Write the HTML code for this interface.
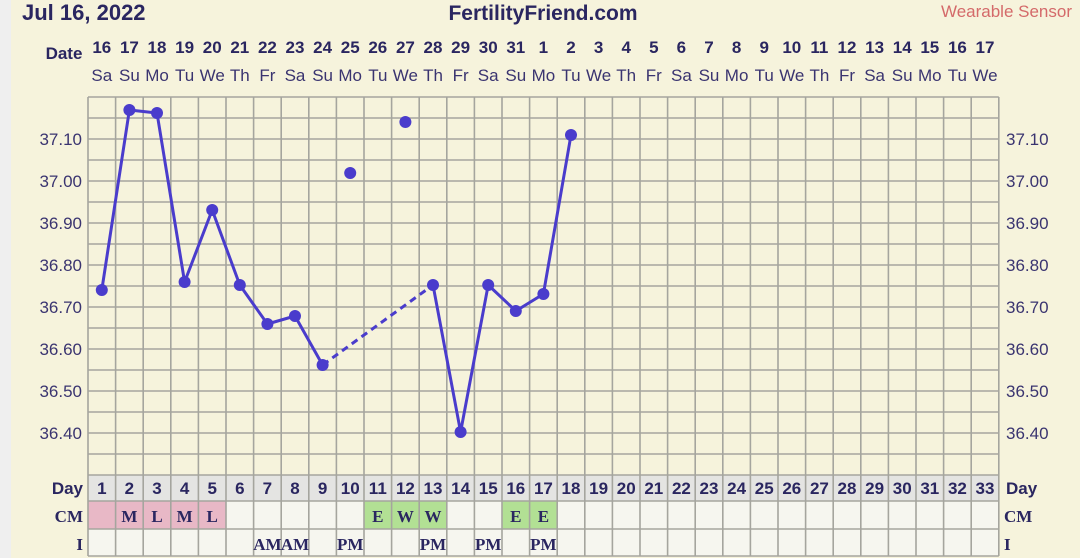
<!DOCTYPE html>
<html><head><meta charset="utf-8"><style>
html,body{margin:0;padding:0;width:1080px;height:558px;overflow:hidden;background:#f6f3dc}
svg{display:block}
.t{font-family:"Liberation Sans",sans-serif;fill:#2a2660}
.d{font-family:"Liberation Sans",sans-serif;font-weight:bold;font-size:17px;fill:#2a2660;text-anchor:middle}
.w{font-family:"Liberation Sans",sans-serif;font-size:17px;fill:#3a3470;text-anchor:middle}
.y{font-family:"Liberation Sans",sans-serif;font-size:17px;fill:#3a3470}
.s{font-family:"Liberation Serif",serif;font-weight:bold;font-size:17px;fill:#2a2660;text-anchor:middle}
</style></head><body>
<svg width="1080" height="558" viewBox="0 0 1080 558" xmlns="http://www.w3.org/2000/svg">
<rect x="0" y="0" width="11" height="558" fill="#efefef"/>
<text class="t" x="22" y="20" font-size="22" font-weight="bold">Jul 16, 2022</text>
<text class="t" x="543" y="20" font-size="21" font-weight="bold" text-anchor="middle">FertilityFriend.com</text>
<text x="1072" y="17" font-family="Liberation Sans,sans-serif" font-size="17" fill="#d46a6a" text-anchor="end">Wearable Sensor</text>
<text class="d" x="64" y="59" font-size="18">Date</text>
<g class="d">
<text x="101.8" y="53">16</text><text x="129.4" y="53">17</text><text x="157" y="53">18</text><text x="184.6" y="53">19</text><text x="212.2" y="53">20</text><text x="239.8" y="53">21</text><text x="267.4" y="53">22</text><text x="295" y="53">23</text><text x="322.6" y="53">24</text><text x="350.2" y="53">25</text><text x="377.8" y="53">26</text><text x="405.4" y="53">27</text><text x="433" y="53">28</text><text x="460.6" y="53">29</text><text x="488.2" y="53">30</text><text x="515.8" y="53">31</text><text x="543.4" y="53">1</text><text x="571" y="53">2</text><text x="598.6" y="53">3</text><text x="626.2" y="53">4</text><text x="653.8" y="53">5</text><text x="681.4" y="53">6</text><text x="709" y="53">7</text><text x="736.6" y="53">8</text><text x="764.2" y="53">9</text><text x="791.8" y="53">10</text><text x="819.4" y="53">11</text><text x="847" y="53">12</text><text x="874.6" y="53">13</text><text x="902.2" y="53">14</text><text x="929.8" y="53">15</text><text x="957.4" y="53">16</text><text x="985" y="53">17</text>
</g>
<g class="w">
<text x="101.8" y="81">Sa</text><text x="129.4" y="81">Su</text><text x="157" y="81">Mo</text><text x="184.6" y="81">Tu</text><text x="212.2" y="81">We</text><text x="239.8" y="81">Th</text><text x="267.4" y="81">Fr</text><text x="295" y="81">Sa</text><text x="322.6" y="81">Su</text><text x="350.2" y="81">Mo</text><text x="377.8" y="81">Tu</text><text x="405.4" y="81">We</text><text x="433" y="81">Th</text><text x="460.6" y="81">Fr</text><text x="488.2" y="81">Sa</text><text x="515.8" y="81">Su</text><text x="543.4" y="81">Mo</text><text x="571" y="81">Tu</text><text x="598.6" y="81">We</text><text x="626.2" y="81">Th</text><text x="653.8" y="81">Fr</text><text x="681.4" y="81">Sa</text><text x="709" y="81">Su</text><text x="736.6" y="81">Mo</text><text x="764.2" y="81">Tu</text><text x="791.8" y="81">We</text><text x="819.4" y="81">Th</text><text x="847" y="81">Fr</text><text x="874.6" y="81">Sa</text><text x="902.2" y="81">Su</text><text x="929.8" y="81">Mo</text><text x="957.4" y="81">Tu</text><text x="985" y="81">We</text>
</g>
<!-- rows backgrounds -->
<rect x="88" y="475" width="910.8" height="26" fill="#e4e4e2"/>
<rect x="88" y="501" width="910.8" height="55" fill="#f6f6ef"/>
<rect x="88" y="501" width="138" height="28" fill="#e8b8c6"/>
<rect x="364" y="501" width="82.8" height="28" fill="#b2e094"/>
<rect x="502" y="501" width="55.2" height="28" fill="#b2e094"/>
<!-- grid -->
<g stroke="#a5a59e" stroke-width="1.6" fill="none">
<path d="M88 97V556M115.6 97V556M143.2 97V556M170.8 97V556M198.4 97V556M226 97V556M253.6 97V556M281.2 97V556M308.8 97V556M336.4 97V556M364 97V556M391.6 97V556M419.2 97V556M446.8 97V556M474.4 97V556M502 97V556M529.6 97V556M557.2 97V556M584.8 97V556M612.4 97V556M640 97V556M667.6 97V556M695.2 97V556M722.8 97V556M750.4 97V556M778 97V556M805.6 97V556M833.2 97V556M860.8 97V556M888.4 97V556M916 97V556M943.6 97V556M971.2 97V556M998.8 97V556"/>
<path d="M88 97H998.8M88 118H998.8M88 139H998.8M88 160H998.8M88 181H998.8M88 202H998.8M88 223H998.8M88 244H998.8M88 265H998.8M88 286H998.8M88 307H998.8M88 328H998.8M88 349H998.8M88 370H998.8M88 391H998.8M88 412H998.8M88 433H998.8M88 454H998.8M88 475H998.8M88 501H998.8M88 529H998.8M88 556H998.8"/>
</g>
<g class="y" text-anchor="end">
<text x="82" y="145">37.10</text><text x="82" y="187">37.00</text><text x="82" y="229">36.90</text><text x="82" y="271">36.80</text><text x="82" y="313">36.70</text><text x="82" y="355">36.60</text><text x="82" y="397">36.50</text><text x="82" y="439">36.40</text>
</g>
<g class="y">
<text x="1006" y="145">37.10</text><text x="1006" y="187">37.00</text><text x="1006" y="229">36.90</text><text x="1006" y="271">36.80</text><text x="1006" y="313">36.70</text><text x="1006" y="355">36.60</text><text x="1006" y="397">36.50</text><text x="1006" y="439">36.40</text>
</g>
<!-- series -->
<g stroke="#4a3ccc" stroke-width="3" fill="none" stroke-linejoin="round">
<polyline points="101.8,290 129.4,110 157,113 184.6,282 212.2,210 239.8,285 267.4,324 295,316 322.6,365"/>
<polyline points="433,285 460.6,432 488.2,285 515.8,311 543.4,294 571,135"/>
<line x1="322.6" y1="365" x2="433" y2="285" stroke-dasharray="7,5"/>
</g>
<g fill="#4a3ccc">
<circle cx="101.8" cy="290" r="6"/><circle cx="129.4" cy="110" r="6"/><circle cx="157" cy="113" r="6"/><circle cx="184.6" cy="282" r="6"/><circle cx="212.2" cy="210" r="6"/><circle cx="239.8" cy="285" r="6"/><circle cx="267.4" cy="324" r="6"/><circle cx="295" cy="316" r="6"/><circle cx="322.6" cy="365" r="6"/><circle cx="350.2" cy="173" r="6"/><circle cx="405.4" cy="122" r="6"/><circle cx="433" cy="285" r="6"/><circle cx="460.6" cy="432" r="6"/><circle cx="488.2" cy="285" r="6"/><circle cx="515.8" cy="311" r="6"/><circle cx="543.4" cy="294" r="6"/><circle cx="571" cy="135" r="6"/>
</g>
<!-- day row -->
<text class="d" x="83" y="494" text-anchor="end" style="text-anchor:end">Day</text>
<text class="d" x="1006" y="494" style="text-anchor:start">Day</text>
<g class="d">
<text x="101.8" y="494">1</text><text x="129.4" y="494">2</text><text x="157" y="494">3</text><text x="184.6" y="494">4</text><text x="212.2" y="494">5</text><text x="239.8" y="494">6</text><text x="267.4" y="494">7</text><text x="295" y="494">8</text><text x="322.6" y="494">9</text><text x="350.2" y="494">10</text><text x="377.8" y="494">11</text><text x="405.4" y="494">12</text><text x="433" y="494">13</text><text x="460.6" y="494">14</text><text x="488.2" y="494">15</text><text x="515.8" y="494">16</text><text x="543.4" y="494">17</text><text x="571" y="494">18</text><text x="598.6" y="494">19</text><text x="626.2" y="494">20</text><text x="653.8" y="494">21</text><text x="681.4" y="494">22</text><text x="709" y="494">23</text><text x="736.6" y="494">24</text><text x="764.2" y="494">25</text><text x="791.8" y="494">26</text><text x="819.4" y="494">27</text><text x="847" y="494">28</text><text x="874.6" y="494">29</text><text x="902.2" y="494">30</text><text x="929.8" y="494">31</text><text x="957.4" y="494">32</text><text x="985" y="494">33</text>
</g>
<text class="s" x="83" y="522" style="text-anchor:end">CM</text>
<text class="s" x="1004" y="522" style="text-anchor:start">CM</text>
<text class="s" x="83" y="550" style="text-anchor:end">I</text>
<text class="s" x="1004" y="550" style="text-anchor:start">I</text>
<g class="s">
<text x="129.4" y="522">M</text><text x="157" y="522">L</text><text x="184.6" y="522">M</text><text x="212.2" y="522">L</text><text x="377.8" y="522">E</text><text x="405.4" y="522">W</text><text x="433" y="522">W</text><text x="515.8" y="522">E</text><text x="543.4" y="522">E</text>
<text x="267.4" y="550">AM</text><text x="295" y="550">AM</text><text x="350.2" y="550">PM</text><text x="433" y="550">PM</text><text x="488.2" y="550">PM</text><text x="543.4" y="550">PM</text>
</g>
</svg>
</body></html>
